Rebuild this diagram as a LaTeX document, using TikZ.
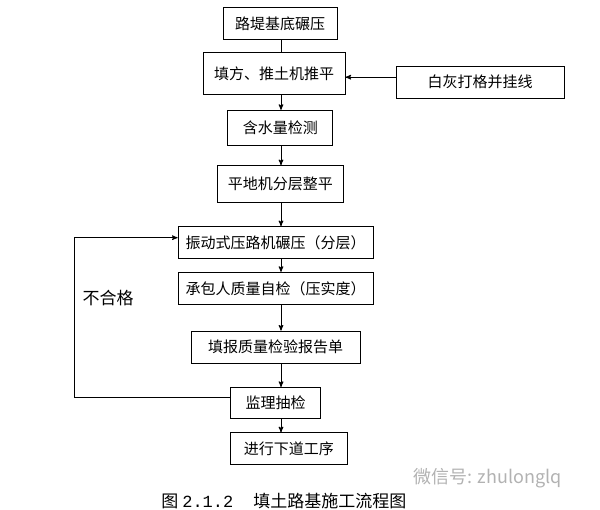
\documentclass[tikz,border=0pt]{standalone}
\usepackage{fontspec}
\setmainfont{Noto Sans CJK SC}
\newfontfamily\numfont{Liberation Mono}
\usetikzlibrary{arrows,positioning}

\begin{document}
\begin{tikzpicture}[x=1pt,y=-1pt,node distance=12pt,>=stealth',line width=1pt]
\tikzset{
block/.style= {draw, rectangle, inner sep=0pt, minimum height=32pt, font=\fontsize{15}{18}\selectfont},
textblock/.style= {inner sep=0pt, font=\fontsize{17}{20}\selectfont},
watermark/.style = {inner sep=0pt, text=black!30, font=\fontsize{18}{20}\selectfont}
}
\useasboundingbox (0,0) rectangle (600,510);
\coordinate (spine) at (281,0);

\node [block, minimum width=114pt](subgrade) at (280,24) {路堤基底碾压};
\node [block, below = 11.7pt of subgrade, xshift=-6pt, minimum width=142pt, minimum height=42pt](filling) {填方、推土机推平};
\node [block, right = 50pt of filling, yshift=-8.5pt, minimum width=168pt](marking) {白灰打格并挂线};
\node [block, below = 14.7pt of filling, xshift=6.3pt, minimum width=105pt, minimum height=35pt](moisture) {含水量检测};
\node [block, below = 19.3pt of moisture, minimum width=126pt, minimum height=37pt](grading) {平地机分层整平};
\node [block, below = 23pt of grading, xshift=-4.7pt, minimum width=195pt](rolling) {振动式压路机碾压（分层）};
\node [block, below = 12.7pt of rolling, minimum width=195pt](selfcheck) {承包人质量自检（压实度）};
\node [block, below = 25.7pt of selfcheck, minimum width=169pt](report) {填报质量检验报告单};
\node [block, below = 23.4pt of report, minimum width=90pt, minimum height=31pt](supervise) {监理抽检};
\node [block, below = 13.3pt of supervise, xshift=13.3pt, minimum width=117pt](nextstep) {进行下道工序};

\coordinate [left = 156pt of supervise.west, yshift=5pt](retry);
\node [textblock, above right = 92pt and 8pt of retry](fail) {不合格};

\node [textblock, below = 27pt of nextstep, xshift=-5pt](caption) {图 {\numfont 2.1.2}\hspace{20pt}填土路基施工流程图};
\node [watermark, anchor=west](wechat) at (413,478) {微信号: zhulonglq};

\draw (spine |- subgrade.south) -- (spine |- filling.north);
\draw [->] (spine |- filling.south) -- (spine |- moisture.north);
\draw [->] (spine |- moisture.south) -- (spine |- grading.north);
\draw [->] (spine |- grading.south) -- (spine |- rolling.north);
\draw [->] (spine |- rolling.south) -- (spine |- selfcheck.north);
\draw [->] (spine |- selfcheck.south) -- (spine |- report.north);
\draw [->] (spine |- report.south) -- (spine |- supervise.north);
\draw [->] (spine |- supervise.south) -- (spine |- nextstep.north);

\draw [->] ([yshift=5pt]marking.west) -- ([yshift=5pt]marking.west -| filling.east);
\draw [->] ([yshift=5pt]supervise.west) -- (retry) |- ([yshift=5pt]rolling.west);
\end{tikzpicture}
\end{document}
